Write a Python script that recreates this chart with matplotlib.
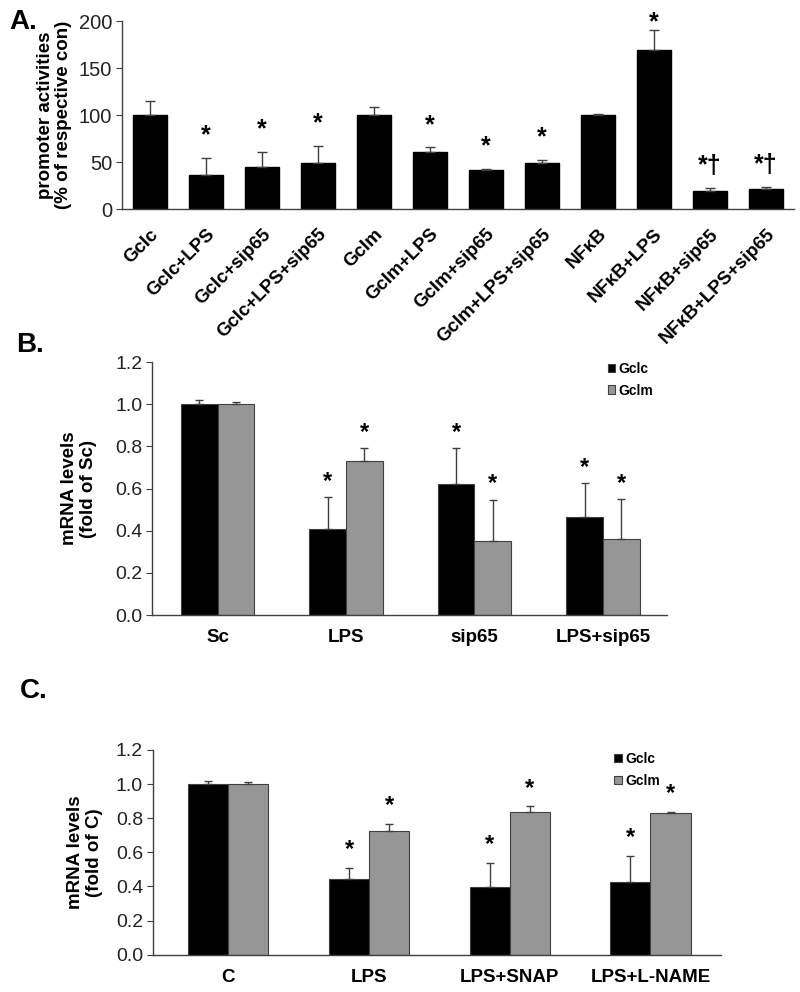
import numpy as np
import matplotlib
matplotlib.use("Agg")
import matplotlib.pyplot as plt

plt.rcParams['font.family'] = ['Liberation Sans', 'DejaVu Sans']

# panel A: promoter activities
a_labels = ["Gclc", "Gclc+LPS", "Gclc+sip65", "Gclc+LPS+sip65",
            "Gclm", "Gclm+LPS", "Gclm+sip65", "Gclm+LPS+sip65",
            "NFκB", "NFκB+LPS", "NFκB+sip65", "NFκB+LPS+sip65"]
a_vals = [100, 36.5, 45, 48.6, 100, 61, 41, 48.6, 100, 169, 19.5, 21]
a_err = [15, 18, 16, 18.5, 9, 4.5, 2, 3.2, 1.4, 21, 2.5, 2]
a_marks = ["", "*", "*", "*", "", "*", "*", "*", "", "*", "*†", "*†"]

# panel B: mRNA after sip65
b_groups = ["Sc", "LPS", "sip65", "LPS+sip65"]
b_gclc = [1.0, 0.408, 0.621, 0.467]
b_gclc_err = [0.021, 0.151, 0.171, 0.159]
b_gclm = [1.0, 0.733, 0.353, 0.36]
b_gclm_err = [0.01, 0.059, 0.195, 0.19]
b_marks_c = ["", "*", "*", "*"]
b_marks_m = ["", "*", "*", "*"]

# panel C: mRNA with NO donors / inhibitors
c_groups = ["C", "LPS", "LPS+SNAP", "LPS+L-NAME"]
c_gclc = [1.0, 0.443, 0.398, 0.427]
c_gclc_err = [0.02, 0.066, 0.14, 0.154]
c_gclm = [1.0, 0.727, 0.834, 0.829]
c_gclm_err = [0.01, 0.041, 0.036, 0.01]
c_marks_c = ["", "*", "*", "*"]
c_marks_m = ["", "*", "*", "*"]

axcol = '#404040'
grey = '#969696'

fig = plt.figure(figsize=(8, 9.92), dpi=100)


def style(ax, tick_size):
    for s in ['top', 'right']:
        ax.spines[s].set_visible(False)
    for s in ['left', 'bottom']:
        ax.spines[s].set_color(axcol)
        ax.spines[s].set_linewidth(1.0)
    ax.tick_params(axis='y', direction='out', length=4, color=axcol,
                   labelsize=tick_size, pad=3, labelcolor='#222222')
    ax.tick_params(axis='x', length=0)


# ---- A ----
axA = fig.add_axes([0.1525, 0.7893, 0.84, 0.1895])
xa = np.arange(len(a_vals))
axA.bar(xa, a_vals, width=0.6, color='black', edgecolor='black',
        yerr=[np.zeros(len(a_err)), a_err], capsize=3.5,
        error_kw=dict(ecolor=axcol, elinewidth=1, capthick=1))
axA.set_xlim(-0.5, 11.5)
axA.set_ylim(0, 200)
axA.set_yticks([0, 50, 100, 150, 200])
axA.set_xticks(xa)
axA.set_xticklabels(a_labels, rotation=45, ha='right', rotation_mode='anchor',
                    fontsize=13.5, fontweight='bold')
style(axA, 14.5)
axA.tick_params(axis='x', pad=12)
axA.set_ylabel("promoter activities\n(% of respective con)", fontsize=13.5,
               fontweight='bold', labelpad=5, linespacing=1.1)
for i, m in enumerate(a_marks):
    if m:
        y = min(a_vals[i] + a_err[i] + 24, 199)
        axA.text(xa[i], y, m, ha='center', va='center', fontsize=18,
                 fontweight='bold', clip_on=False)
fig.text(0.012, 0.978, "A.", fontsize=20, fontweight='bold', va='center')


def grouped(ax, groups, g1, e1, g2, e2, m1, m2, ylab, star_off, lpad):
    x = np.arange(len(groups))
    w = 0.285
    ax.bar(x - w / 2, g1, width=w, color='black', edgecolor=axcol, linewidth=0.8,
           yerr=[np.zeros(len(e1)), e1], capsize=3,
           error_kw=dict(ecolor=axcol, elinewidth=1, capthick=1), label='Gclc')
    ax.bar(x + w / 2, g2, width=w, color=grey, edgecolor=axcol, linewidth=0.8,
           yerr=[np.zeros(len(e2)), e2], capsize=3,
           error_kw=dict(ecolor=axcol, elinewidth=1, capthick=1), label='Gclm')
    for i in range(len(groups)):
        if m1[i]:
            ax.text(x[i] - w / 2, g1[i] + e1[i] + star_off, m1[i], ha='center',
                    va='center', fontsize=17, fontweight='bold')
        if m2[i]:
            ax.text(x[i] + w / 2, g2[i] + e2[i] + star_off, m2[i], ha='center',
                    va='center', fontsize=17, fontweight='bold')
    ax.set_ylim(0, 1.2)
    ax.set_yticks(np.arange(0, 1.21, 0.2))
    ax.set_yticklabels(["%.1f" % v for v in np.arange(0, 1.21, 0.2)])
    ax.set_xticks(x)
    ax.set_xticklabels(groups, fontsize=13.5, fontweight='bold')
    style(ax, 14)
    ax.tick_params(axis='x', pad=10)
    ax.set_ylabel(ylab, fontsize=13.5, fontweight='bold', labelpad=lpad,
                  linespacing=1.15)
    return x


# ---- B ----
axB = fig.add_axes([0.19, 0.380, 0.644, 0.255])
grouped(axB, b_groups, b_gclc, b_gclc_err, b_gclm, b_gclm_err,
        b_marks_c, b_marks_m, "mRNA levels\n(fold of Sc)", 0.075, 13)
axB.set_xlim(-0.51, 3.5)
axB.legend(loc='upper left', bbox_to_anchor=(0.86, 1.05), frameon=False,
           prop={'size': 10, 'weight': 'bold'}, handlelength=0.55,
           handleheight=0.55, handletextpad=0.25, labelspacing=0.55)
fig.text(0.02, 0.652, "B.", fontsize=20, fontweight='bold', va='center')

# ---- C ----
axC = fig.add_axes([0.191, 0.0376, 0.71, 0.2064])
grouped(axC, c_groups, c_gclc, c_gclc_err, c_gclm, c_gclm_err,
        c_marks_c, c_marks_m, "mRNA levels\n(fold of C)", 0.105, 9)
axC.set_xlim(-0.537, 3.5)
axC.legend(loc='upper left', bbox_to_anchor=(0.79, 1.05), frameon=False,
           prop={'size': 10, 'weight': 'bold'}, handlelength=0.55,
           handleheight=0.55, handletextpad=0.25, labelspacing=0.55)
fig.text(0.025, 0.303, "C.", fontsize=20, fontweight='bold', va='center')

fig.savefig("out.png", dpi=100)
